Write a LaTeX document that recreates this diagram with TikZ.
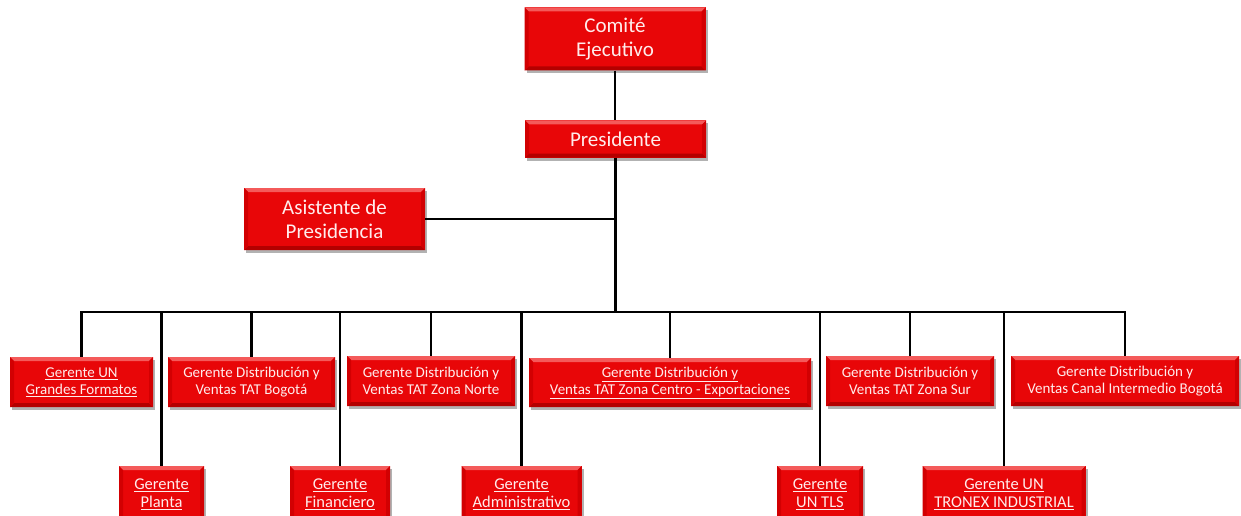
\documentclass[tikz,border=0pt]{standalone}
\usepackage{fontspec}
\setmainfont{Carlito}
\usetikzlibrary{shadows}
\definecolor{boxred}{RGB}{232,6,8}
\definecolor{bvtop}{RGB}{244,90,90}
\definecolor{bvbot}{RGB}{180,0,0}
\definecolor{bvside}{RGB}{210,0,2}
\definecolor{txt}{RGB}{255,236,236}
\tikzset{
  box/.style={fill=boxred, text=txt, align=center, inner sep=0pt,
    drop shadow={shadow xshift=2pt, shadow yshift=-3pt, fill=black, opacity=0.3},
    path picture={
      \fill[bvtop] (path picture bounding box.north west) -- (path picture bounding box.north east)
        -- ([xshift=-4pt,yshift=-4pt]path picture bounding box.north east)
        -- ([xshift=4pt,yshift=-4pt]path picture bounding box.north west) -- cycle;
      \fill[bvbot] (path picture bounding box.south west) -- (path picture bounding box.south east)
        -- ([xshift=-4pt,yshift=4pt]path picture bounding box.south east)
        -- ([xshift=4pt,yshift=4pt]path picture bounding box.south west) -- cycle;
      \fill[bvside] (path picture bounding box.north west) -- ([xshift=4pt,yshift=-4pt]path picture bounding box.north west)
        -- ([xshift=4pt,yshift=4pt]path picture bounding box.south west) -- (path picture bounding box.south west) -- cycle;
      \fill[bvside] (path picture bounding box.north east) -- ([xshift=-4pt,yshift=-4pt]path picture bounding box.north east)
        -- ([xshift=-4pt,yshift=4pt]path picture bounding box.south east) -- (path picture bounding box.south east) -- cycle;
    }},
  bigbox/.style={box, font=\fontsize{21}{24}\selectfont},
  midbox/.style={box, font=\fontsize{15}{17}\selectfont},
  lowbox/.style={box, font=\fontsize{16.5}{18}\selectfont},
  conn/.style={draw=black, line width=2.3pt}
}
\begin{document}
\begin{tikzpicture}[x=1pt,y=-1pt]
\useasboundingbox (0,0) rectangle (1241,516);
% top
\node[bigbox, minimum width=181pt, minimum height=63pt] (ce) at (615,39) {Comité\\Ejecutivo};
\node[bigbox, minimum width=181pt, minimum height=37pt] (pres) at (615.5,139) {Presidente};
\node[bigbox, minimum width=181pt, minimum height=62pt] (asis) at (334.5,219) {Asistente de\\Presidencia};
% row 1
\node[midbox, minimum width=143pt, minimum height=50pt] (gf) at (81.5,382) {\underline{Gerente UN}\\\underline{Grandes Formatos}};
\node[midbox, minimum width=167pt, minimum height=50pt] (bog) at (251.5,382) {Gerente Distribución y\\Ventas TAT Bogotá};
\node[midbox, minimum width=168pt, minimum height=50pt] (nor) at (431,381) {Gerente Distribución y\\Ventas TAT Zona Norte};
\node[midbox, minimum width=282pt, minimum height=49pt] (cen) at (670,382.5) {\underline{Gerente Distribución y}\\\underline{Ventas TAT Zona Centro - Exportaciones}};
\node[midbox, minimum width=168pt, minimum height=50pt] (sur) at (910,381) {Gerente Distribución y\\Ventas TAT Zona Sur};
\node[midbox, minimum width=228pt, minimum height=50pt] (can) at (1125,381) {Gerente Distribución y\\Ventas Canal Intermedio Bogotá};
% row 2
\node[lowbox, minimum width=85pt, minimum height=56pt] (pla) at (161.5,494) {\underline{Gerente}\\\underline{Planta}};
\node[lowbox, minimum width=100pt, minimum height=56pt] (fin) at (340,494) {\underline{Gerente}\\\underline{Financiero}};
\node[lowbox, minimum width=120pt, minimum height=56pt] (adm) at (521.5,494) {\underline{Gerente}\\\underline{Administrativo}};
\node[lowbox, minimum width=86pt, minimum height=56pt] (tls) at (820,494) {\underline{Gerente}\\\underline{UN TLS}};
\node[lowbox, minimum width=163pt, minimum height=56pt] (tro) at (1004,494) {\underline{Gerente UN}\\\underline{TRONEX INDUSTRIAL}};
% connectors
\coordinate (bus) at (616,312);
\draw[conn] (ce.south) -- (ce.south |- pres.north);
\draw[conn] (pres.south) -- (pres.south |- bus);
\draw[conn] (asis.east) -- (asis.east -| pres.south);
\draw[conn, line cap=rect] (gf.north |- bus) -- (can.north |- bus);
\foreach \n in {gf,bog,nor,cen,sur,can}{
  \draw[conn] (\n.north |- bus) -- (\n.north);
}
\foreach \n in {pla,fin,adm,tls,tro}{
  \draw[conn] (\n.north |- bus) -- (\n.north);
}
\end{tikzpicture}
\end{document}
